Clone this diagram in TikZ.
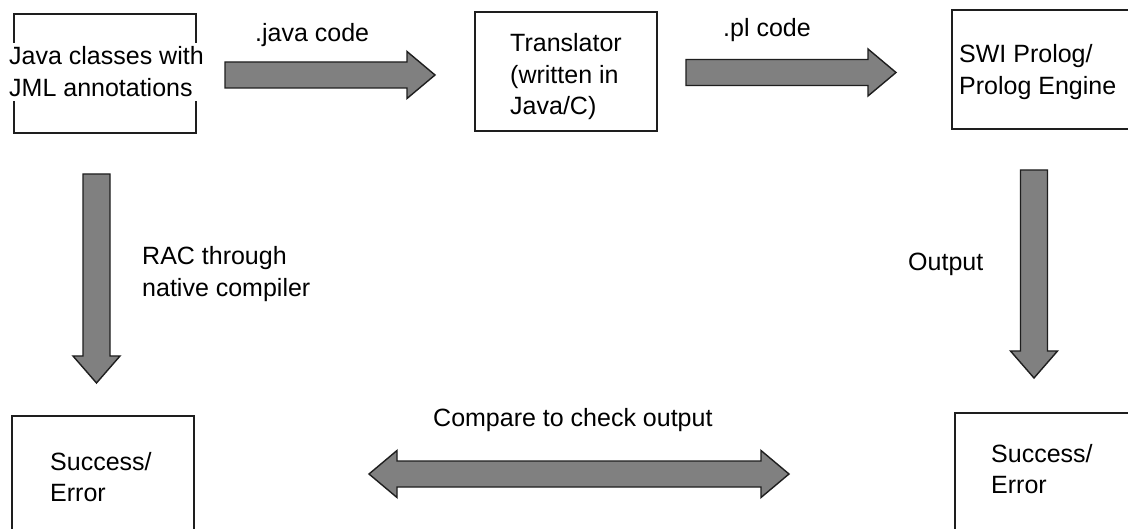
\documentclass[tikz,border=0pt]{standalone}
\usepackage{fontspec}
\setmainfont{Liberation Sans}
\usetikzlibrary{calc}

\definecolor{arrowgray}{HTML}{808080}
\definecolor{edgeblack}{HTML}{1E1E1E}

% horizontal block arrow: #1 = tail centre, #2 = tip
\newcommand\rightblock[2]{%
  \path[blockarrow] let \p1=(#1), \p2=(#2) in
    (\x1,\y1+13pt) -- (\x2-28pt,\y1+13pt) -- (\x2-28pt,\y1+23.5pt) -- (\x2,\y1)
    -- (\x2-28pt,\y1-23.5pt) -- (\x2-28pt,\y1-13pt) -- (\x1,\y1-13pt) -- cycle;}
% vertical block arrow pointing down: #1 = tail centre, #2 = tip
\newcommand\downblock[2]{%
  \path[blockarrow] let \p1=(#1), \p2=(#2) in
    (\x1-13.5pt,\y1) -- (\x1-13.5pt,\y2+27pt) -- (\x1-23.5pt,\y2+27pt) -- (\x1,\y2)
    -- (\x1+23.5pt,\y2+27pt) -- (\x1+13.5pt,\y2+27pt) -- (\x1+13.5pt,\y1) -- cycle;}
% double-headed horizontal block arrow: #1 = left tip, #2 = right tip
\newcommand\bothblock[2]{%
  \path[blockarrow] let \p1=(#1), \p2=(#2) in
    (\x1,\y1) -- (\x1+28pt,\y1+23.5pt) -- (\x1+28pt,\y1+13pt) -- (\x2-28pt,\y1+13pt)
    -- (\x2-28pt,\y1+23.5pt) -- (\x2,\y1) -- (\x2-28pt,\y1-23.5pt) -- (\x2-28pt,\y1-13pt)
    -- (\x1+28pt,\y1-13pt) -- (\x1+28pt,\y1-23.5pt) -- cycle;}

\tikzset{
  stagebox/.style={draw=edgeblack, line width=1.4pt, fill=none, inner sep=0pt},
  blockarrow/.style={fill=arrowgray, draw=edgeblack, line width=1.4pt, line join=miter},
  % the base anchor of a multi-line text is the baseline of its last line
  txt/.style={font=\fontsize{25}{31.5}\selectfont, text=black, inner sep=0pt,
    anchor=base west, align=left},
}

\begin{document}
\begin{tikzpicture}[x=1pt,y=-1pt]
  \fill[white] (0,0) rectangle (1128,529);
  \useasboundingbox (0,0) rectangle (1128,529);
  \clip (0,0) rectangle (1128,529);

  % stages
  \draw[stagebox] (14,14) rectangle (196,133) node[midway] (java) {};
  \draw[stagebox] (475,12) rectangle (657,131) node[midway] (trans) {};
  \draw[stagebox] (952,10) rectangle (1145,129) node[midway] (swi) {};
  \draw[stagebox] (12,416) rectangle (194,545) node[midway] (resL) {};
  \draw[stagebox] (955,413) rectangle (1145,545) node[midway] (resR) {};

  % stage texts
  \node[txt, fill=white, inner ysep=4pt] (javaT) at (9,96.5) {Java classes with\\JML annotations};
  \node[txt] (transT) at (510,115) {Translator\\(written in\\Java/C)};
  \node[txt] (swiT) at (959,94.5) {SWI Prolog/\\Prolog Engine};
  \node[txt] (resLT) at (50,501.5) {Success/\\Error};
  \node[txt] (resRT) at (991,493.5) {Success/\\Error};

  % arrow end points
  \coordinate (a1s) at (225,75);    \coordinate (a1e) at (435,75);
  \coordinate (a2s) at (686,72.5);  \coordinate (a2e) at (896,72.5);
  \coordinate (dLs) at (96.5,174);  \coordinate (dLe) at (96.5,383);
  \coordinate (dRs) at (1034,170);  \coordinate (dRe) at (1034,378);
  \coordinate (cmpL) at (369,474);  \coordinate (cmpR) at (789,474);

  \rightblock{a1s}{a1e}
  \rightblock{a2s}{a2e}
  \downblock{dLs}{dLe}
  \downblock{dRs}{dRe}
  \bothblock{cmpL}{cmpR}

  % arrow labels
  \node[txt] (l1) at (255,42) {.java code};
  \node[txt] (l2) at (723,37) {.pl code};
  \node[txt] (l3) at (142,296.5) {RAC through\\native compiler};
  \node[txt] (l4) at (908,271) {Output};
  \node[txt] (l5) at (433,427) {Compare to check output};
\end{tikzpicture}
\end{document}
